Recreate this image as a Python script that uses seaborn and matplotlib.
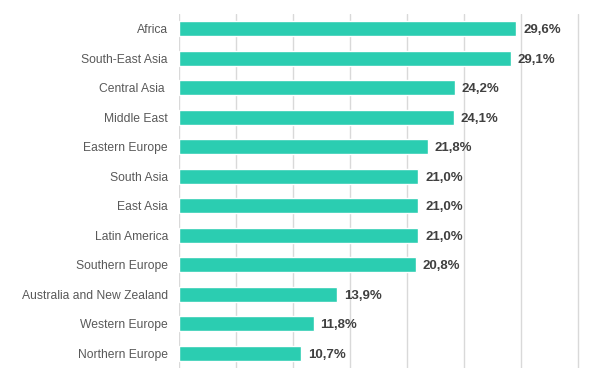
import pandas as pd
import matplotlib
matplotlib.use("Agg")
import matplotlib.pyplot as plt
import seaborn as sns

# data
regions = ["Africa", "South-East Asia", "Central Asia ", "Middle East", "Eastern Europe",
           "South Asia", "East Asia", "Latin America", "Southern Europe",
           "Australia and New Zealand", "Western Europe", "Northern Europe"]
shares = [29.6, 29.1, 24.2, 24.1, 21.8, 21.0, 21.0, 21.0, 20.8, 13.9, 11.8, 10.7]

df = pd.DataFrame({"Region": regions, "Share": shares})

sns.set_style("white")
plt.rcParams['font.family'] = ['Liberation Sans', 'DejaVu Sans']

fig = plt.figure(figsize=(6.04, 3.86), dpi=100)
ax = fig.add_axes([179 / 604, 18 / 386, 401 / 604, 354 / 386])

sns.barplot(data=df, x="Share", y="Region", color="#2BCDB1", saturation=1,
            width=0.5, ax=ax, zorder=3)

ax.set_xlim(0, 35.17)
ax.set_ylim(11.5, -0.5)
ax.set_xticks(range(0, 36, 5))
ax.xaxis.grid(True, color="#D9D9D9", linewidth=1, zorder=0)
ax.set_axisbelow(True)
ax.tick_params(axis="x", length=0, labelbottom=False)
ax.tick_params(axis="y", length=0, pad=8, labelsize=8.7, labelcolor="#595959")
ax.set_xlabel("")
ax.set_ylabel("")
for s in ax.spines.values():
    s.set_visible(False)

# value labels with decimal comma
for i, v in enumerate(shares):
    ax.text(v + 0.6, i, f"{v:.1f}%".replace(".", ","), va="center_baseline", ha="left",
            fontsize=9.5, fontweight="bold", color="#404040")

fig.savefig("out.png", dpi=100)
